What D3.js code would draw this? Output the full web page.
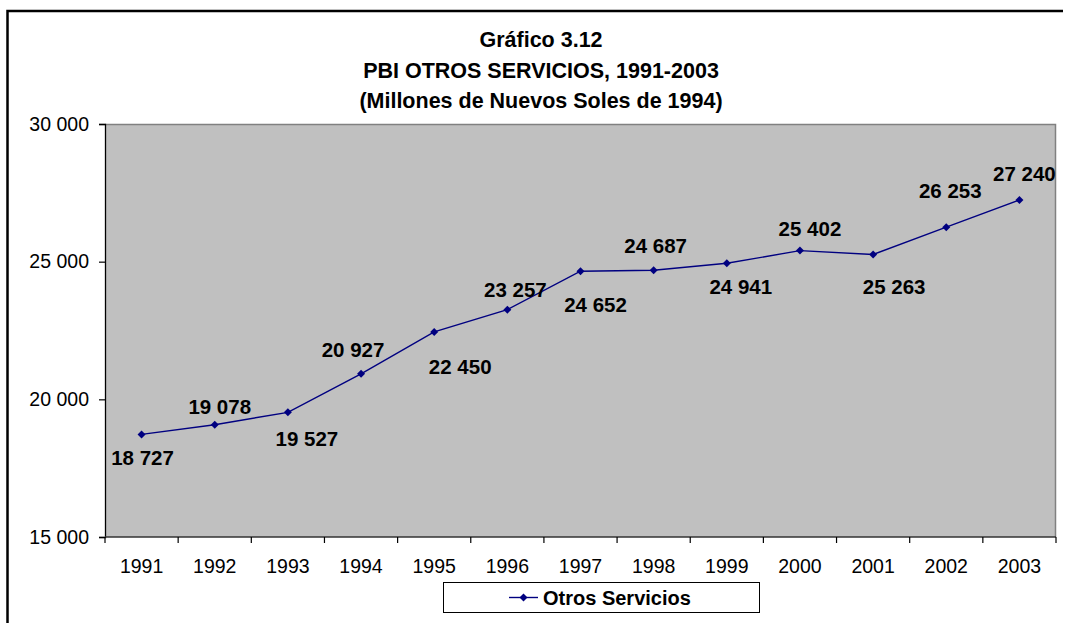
<!DOCTYPE html>
<html>
<head>
<meta charset="utf-8">
<script src="https://cdn.jsdelivr.net/npm/d3@7"></script>
<style>
  body { margin: 0; background: #fff; }
  text { font-family: "Liberation Sans", Arial, sans-serif; fill: #000; }
</style>
</head>
<body>
<div id="chart"></div>
<script>
// Data
var years = ["1991", "1992", "1993", "1994", "1995", "1996", "1997",
             "1998", "1999", "2000", "2001", "2002", "2003"];
var values = [18727, 19078, 19527, 20927, 22450, 23257, 24652,
              24687, 24941, 25402, 25263, 26253, 27240];
var yTicks = [15000, 20000, 25000, 30000];
var titleLines = ["Gráfico 3.12", "PBI OTROS SERVICIOS, 1991-2003", "(Millones de Nuevos Soles de 1994)"];
var seriesName = "Otros Servicios";

// label placement (offset of label centre from its point, px)
var labelDx = [1, 5, 19, -8, 26, 8, 15, 2, 14, 10, 21, 4, 5];
var labelDy = [23, -18, 26, -24, 35, -20, 33, -25, 23, -22, 32, -37, -26];

var W = 1067, H = 623;
var margin = {top: 124, right: 11, bottom: 86, left: 105},
    width = W - margin.left - margin.right,
    height = H - margin.top - margin.bottom;

var fmt = function(v) { return d3.format(",")(v).replace(/,/g, " "); };

var svg = d3.select("#chart").append("svg")
    .attr("width", W)
    .attr("height", H);

svg.append("rect").attr("width", W).attr("height", H).attr("fill", "#fff");

// outer frame (only left and top edges show in the picture)
svg.append("path")
    .attr("d", "M7.5,623 L7.5,11 L1063,11")
    .attr("fill", "none")
    .attr("stroke", "#000")
    .attr("stroke-width", 2.5);

// title
svg.append("g").selectAll("text")
    .data(titleLines)
    .enter().append("text")
    .attr("x", 541)
    .attr("y", function(d, i) { return 47 + i * 30.5; })
    .attr("text-anchor", "middle")
    .style("font-size", "21.5px")
    .style("font-weight", "bold")
    .text(function(d) { return d; });

var x = d3.scaleBand().domain(years).range([0, width]);
var y = d3.scaleLinear().domain([15000, 30000]).range([height, 0]);

var g = svg.append("g")
    .attr("transform", "translate(" + margin.left + "," + margin.top + ")");

// plot area
g.append("rect")
    .attr("width", width)
    .attr("height", height)
    .attr("fill", "#c0c0c0");
g.append("path")
    .attr("d", "M0,0.5 L" + (width - 0.5) + ",0.5 L" + (width - 0.5) + "," + height)
    .attr("fill", "none")
    .attr("stroke", "#808080")
    .attr("stroke-width", 1.5);

// y axis
var yAxis = d3.axisLeft(y).tickValues(yTicks).tickSize(6).tickPadding(10).tickFormat(fmt);
var ya = g.append("g").call(yAxis);
ya.select(".domain").attr("stroke", "#000").attr("stroke-width", 1.3);
ya.selectAll(".tick line").attr("stroke", "#000").attr("stroke-width", 1.2);
ya.selectAll(".tick text")
    .style("font-size", "19.5px")
    .style("font-family", "Liberation Sans, Arial, sans-serif");

// x axis: ticks between categories
var xa = g.append("g").attr("transform", "translate(0," + height + ")");
xa.append("line")
    .attr("x1", 0).attr("x2", width)
    .attr("stroke", "#333").attr("stroke-width", 1.5);
var bounds = years.map(function(d) { return x(d); }).concat([width]);
xa.selectAll("line.tk")
    .data(bounds)
    .enter().append("line")
    .attr("class", "tk")
    .attr("x1", function(d) { return d; })
    .attr("x2", function(d) { return d; })
    .attr("y1", 0).attr("y2", 6)
    .attr("stroke", "#000").attr("stroke-width", 1.2);
xa.selectAll("text")
    .data(years)
    .enter().append("text")
    .attr("x", function(d) { return x(d) + x.bandwidth() / 2; })
    .attr("y", 36)
    .attr("text-anchor", "middle")
    .style("font-size", "19.5px")
    .text(function(d) { return d; });

// series line
var line = d3.line()
    .x(function(d, i) { return x(years[i]) + x.bandwidth() / 2; })
    .y(function(d) { return y(d); });

g.append("path")
    .datum(values)
    .attr("d", line)
    .attr("fill", "none")
    .attr("stroke", "#000080")
    .attr("stroke-width", 1.4);

var marker = d3.symbol().type(d3.symbolSquare).size(32);

g.selectAll("path.pt")
    .data(values)
    .enter().append("path")
    .attr("class", "pt")
    .attr("d", marker)
    .attr("fill", "#000080")
    .attr("transform", function(d, i) {
        return "translate(" + (x(years[i]) + x.bandwidth() / 2) + "," + y(d) + ") rotate(45)";
    });

// data labels
g.selectAll("text.lbl")
    .data(values)
    .enter().append("text")
    .attr("class", "lbl")
    .attr("x", function(d, i) { return x(years[i]) + x.bandwidth() / 2 + labelDx[i]; })
    .attr("y", function(d, i) { return y(d) + labelDy[i]; })
    .attr("dy", "0.36em")
    .attr("text-anchor", "middle")
    .style("font-size", "20.5px")
    .style("font-weight", "bold")
    .text(function(d) { return fmt(d); });

// legend
var legend = svg.append("g").attr("transform", "translate(443,582)");
legend.append("rect")
    .attr("x", 0.5).attr("y", 0.5)
    .attr("width", 316).attr("height", 30)
    .attr("fill", "#fff")
    .attr("stroke", "#000")
    .attr("stroke-width", 1);
legend.append("line")
    .attr("x1", 66).attr("x2", 95)
    .attr("y1", 15.5).attr("y2", 15.5)
    .attr("stroke", "#000080")
    .attr("stroke-width", 1.4);
legend.append("path")
    .attr("d", marker)
    .attr("fill", "#000080")
    .attr("transform", "translate(80.5,15.5) rotate(45)");
legend.append("text")
    .attr("x", 100)
    .attr("y", 22.5)
    .style("font-size", "20px")
    .style("font-weight", "bold")
    .text(seriesName);
</script>
</body>
</html>
